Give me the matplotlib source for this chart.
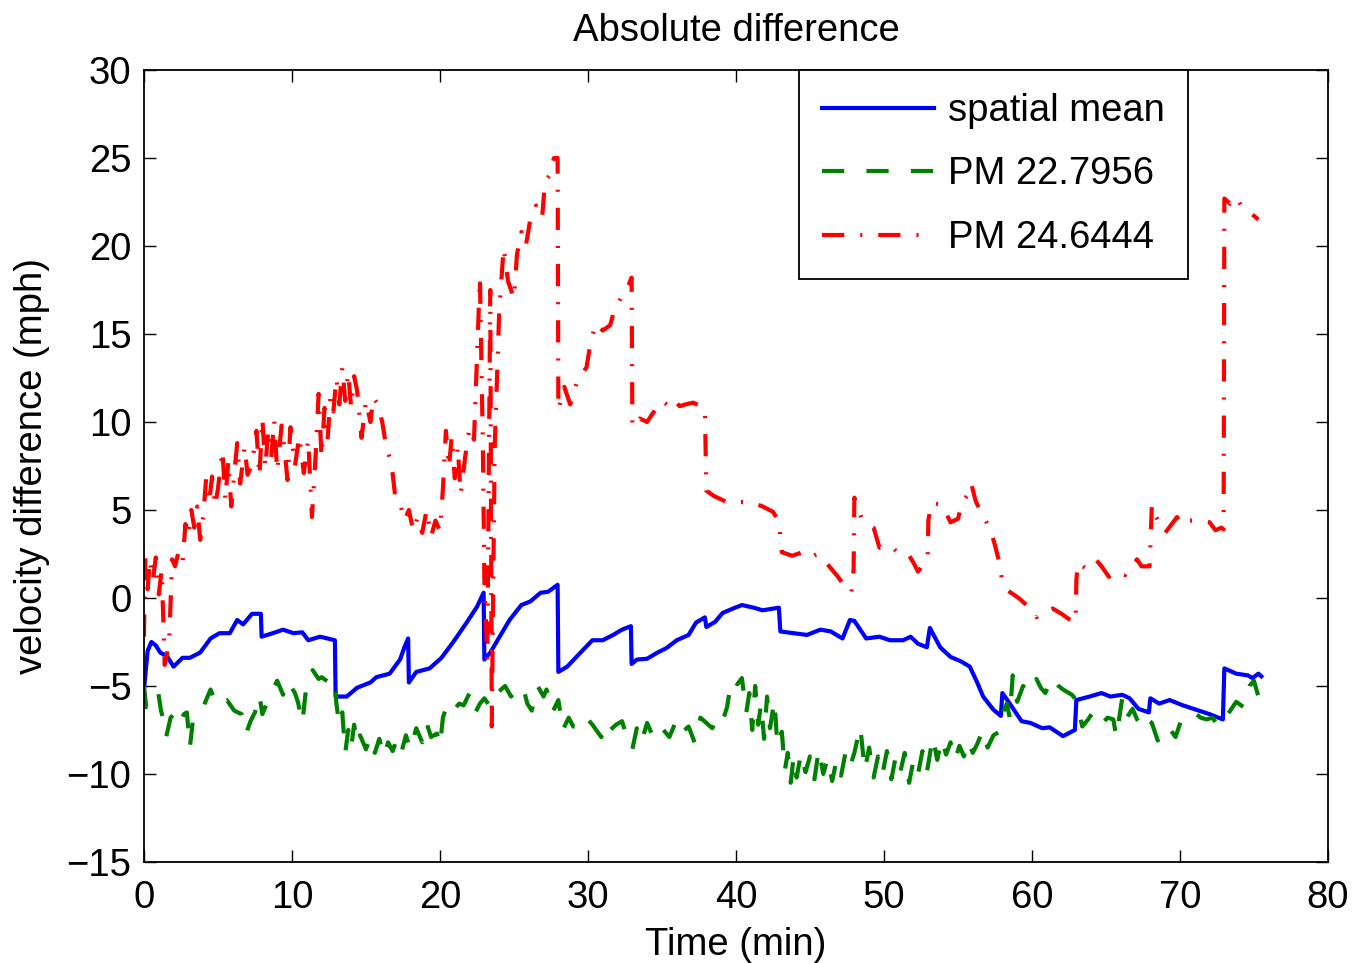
import matplotlib
matplotlib.use("Agg")
import matplotlib.pyplot as plt

plt.rcParams['font.family'] = ['Liberation Sans', 'DejaVu Sans']
plt.rcParams['lines.scale_dashes'] = False

# (time in min, velocity difference in mph)
spatial_mean = [
    (0, -5.2), (0.25, -3.0), (0.5, -2.5), (0.8, -2.7), (1.1, -3.1), (1.55, -3.3),
    (2.0, -3.9), (2.6, -3.4), (3.1, -3.4), (3.8, -3.1), (4.5, -2.3), (5.1, -2.0),
    (5.8, -2.0), (6.3, -1.25), (6.7, -1.5), (7.3, -0.9), (7.9, -0.9), (7.95, -2.2),
    (8.7, -2.0), (9.4, -1.8), (10.1, -2.0), (10.7, -1.95), (11.1, -2.4), (11.9, -2.2),
    (12.4, -2.3), (12.9, -2.4), (12.95, -5.6), (13.7, -5.6), (14.4, -5.1), (15.3, -4.8),
    (15.7, -4.5), (16.6, -4.3), (17.3, -3.5), (17.6, -2.8), (17.85, -2.3), (17.9, -4.8),
    (18.4, -4.2), (19.3, -4.0), (20.1, -3.4), (20.9, -2.5), (21.8, -1.4), (22.5, -0.5),
    (22.95, 0.3), (23.0, -3.5), (23.4, -3.1), (24.1, -2.1), (24.7, -1.25), (25.5, -0.4),
    (26.1, -0.2), (26.8, 0.3), (27.3, 0.35), (27.95, 0.75), (28.0, -4.2), (28.6, -3.9),
    (29.5, -3.1), (30.3, -2.4), (31.0, -2.4), (31.7, -2.1), (32.3, -1.8), (32.9, -1.6),
    (32.95, -3.75), (33.3, -3.5), (34.0, -3.45), (34.7, -3.1), (35.3, -2.85), (36.0, -2.4),
    (36.8, -2.1), (37.3, -1.4), (37.9, -1.1), (38.0, -1.65), (38.6, -1.35), (39.1, -0.85),
    (39.8, -0.6), (40.4, -0.4), (41.2, -0.55), (41.8, -0.7), (42.9, -0.55), (43.0, -1.9),
    (43.9, -2.0), (44.8, -2.1), (45.7, -1.8), (46.4, -1.9), (47.2, -2.3), (47.7, -1.25),
    (48.0, -1.3), (48.8, -2.3), (49.7, -2.2), (50.4, -2.4), (51.3, -2.4), (51.8, -2.2),
    (52.3, -2.6), (52.9, -2.8), (53.1, -1.7), (53.8, -2.8), (54.5, -3.35), (55.2, -3.6),
    (55.8, -3.9), (56.3, -4.8), (56.7, -5.6), (57.4, -6.35), (57.9, -6.7), (58.0, -5.4),
    (58.5, -6.0), (59.3, -7.0), (59.9, -7.1), (60.7, -7.4), (61.2, -7.35), (62.1, -7.85),
    (62.9, -7.5), (63.0, -5.8), (63.9, -5.6), (64.7, -5.4), (65.3, -5.6), (66.1, -5.5),
    (66.6, -5.7), (67.2, -6.3), (67.9, -6.5), (68.0, -5.7), (68.6, -6.0), (69.3, -5.8),
    (70.2, -6.1), (71.1, -6.35), (72.0, -6.6), (72.9, -6.9), (73.0, -4.0), (73.8, -4.3),
    (74.6, -4.4), (74.9, -4.55), (75.3, -4.3), (75.5, -4.45),
]

pm_22 = [
    (0, -5.0), (0.15, -6.2), (0.5, -6.0), (0.95, -5.3), (1.15, -6.4), (1.35, -7.0),
    (1.5, -7.9), (1.8, -6.8), (2.1, -6.5), (2.4, -7.1), (2.7, -6.6), (2.9, -6.5),
    (3.1, -8.5), (3.3, -7.0), (3.6, -6.8), (4.0, -6.2), (4.5, -5.2), (4.9, -6.1),
    (5.3, -5.9), (5.6, -5.8), (6.1, -6.4), (6.6, -6.6), (6.9, -7.7), (7.2, -7.0),
    (7.5, -6.5), (7.8, -5.5), (8.0, -6.6), (8.5, -5.6), (9.0, -4.7), (9.4, -5.5),
    (9.7, -4.7), (10.2, -5.4), (10.4, -5.9), (10.7, -7.1), (11.0, -4.8), (11.4, -4.1),
    (11.8, -4.6), (12.0, -4.5), (12.5, -4.8), (12.9, -4.6), (13.0, -6.0), (13.2, -7.2),
    (13.4, -6.5), (13.6, -8.8), (13.8, -7.5), (14.0, -8.5), (14.2, -7.2), (14.4, -8.3),
    (14.6, -7.8), (15.0, -8.6), (15.3, -7.9), (15.6, -8.8), (15.9, -8.0), (16.2, -9.0),
    (16.5, -8.2), (16.8, -8.7), (17.1, -8.0), (17.4, -8.75), (17.7, -7.8), (18.0, -8.6),
    (18.4, -7.4), (18.8, -8.2), (19.1, -7.1), (19.4, -7.9), (19.8, -7.7), (20.0, -8.4),
    (20.2, -6.8), (20.5, -6.0), (20.9, -6.4), (21.3, -6.0), (21.6, -6.1), (22.0, -5.4),
    (22.4, -6.5), (22.7, -6.0), (23.0, -5.7), (23.4, -6.2), (23.7, -5.8), (24.0, -5.3),
    (24.4, -5.0), (24.8, -5.6), (25.1, -5.3), (25.6, -5.0), (25.9, -6.0), (26.2, -6.4),
    (26.6, -5.0), (27.0, -5.6), (27.2, -5.2), (27.6, -6.5), (28.0, -5.8), (28.3, -7.5),
    (28.7, -6.8), (29.0, -7.3), (29.5, -7.4), (29.9, -6.8), (30.3, -7.2), (30.9, -7.9),
    (31.2, -7.1), (31.5, -7.5), (31.9, -7.2), (32.3, -7.0), (32.6, -7.8), (33.0, -8.6),
    (33.3, -7.4), (33.6, -8.2), (34.0, -7.1), (34.4, -7.9), (34.9, -7.3), (35.5, -7.9),
    (36.0, -6.9), (36.4, -7.6), (36.8, -7.3), (37.2, -8.2), (37.6, -6.8), (38.0, -7.1),
    (38.4, -7.4), (38.8, -6.7), (39.1, -7.0), (39.4, -6.2), (39.7, -4.6), (40.1, -4.9),
    (40.4, -4.55), (40.7, -6.5), (40.9, -5.4), (41.1, -7.5), (41.3, -5.0), (41.5, -7.2),
    (41.7, -6.0), (41.9, -8.0), (42.1, -5.6), (42.3, -7.4), (42.6, -5.8), (42.8, -8.4),
    (43.1, -7.6), (43.3, -9.8), (43.5, -8.8), (43.7, -10.5), (43.9, -9.0), (44.1, -10.2),
    (44.4, -8.8), (44.7, -9.9), (45.0, -9.0), (45.3, -10.3), (45.6, -8.6), (45.9, -10.0),
    (46.2, -9.1), (46.5, -10.4), (46.8, -9.2), (47.1, -10.1), (47.4, -8.8), (47.7, -9.6),
    (48.0, -8.8), (48.4, -7.3), (48.7, -9.8), (49.0, -8.5), (49.3, -10.2), (49.6, -9.0),
    (49.9, -10.0), (50.2, -8.7), (50.5, -10.3), (50.8, -9.0), (51.1, -9.9), (51.4, -8.8),
    (51.7, -10.5), (52.0, -9.2), (52.3, -10.0), (52.6, -8.7), (52.9, -9.9), (53.3, -7.9),
    (53.6, -9.2), (53.9, -8.0), (54.2, -8.9), (54.5, -8.2), (54.8, -9.2), (55.1, -8.4),
    (55.4, -9.0), (55.7, -8.1), (56.0, -8.8), (56.3, -8.3), (56.7, -7.5), (57.0, -8.5),
    (57.4, -7.8), (57.8, -7.6), (58.1, -6.4), (58.3, -6.0), (58.5, -6.8), (58.7, -4.4),
    (59.0, -5.9), (59.4, -5.0), (59.9, -5.4), (60.3, -4.6), (60.6, -5.1), (60.9, -5.4),
    (61.4, -4.5), (61.8, -5.0), (62.1, -5.2), (62.7, -5.5), (63.0, -5.8), (63.4, -7.3),
    (63.8, -6.9), (64.1, -6.5), (64.7, -7.2), (65.1, -6.8), (65.5, -6.9), (65.7, -7.9),
    (66.1, -5.7), (66.4, -6.8), (66.8, -6.3), (67.1, -6.9), (67.5, -7.4), (67.8, -6.9),
    (68.1, -7.1), (68.5, -8.1), (68.8, -7.6), (69.2, -7.3), (69.7, -7.9), (70.1, -6.9),
    (70.4, -6.8), (70.7, -6.5), (71.1, -6.6), (71.4, -6.8), (71.8, -6.9), (72.2, -6.8),
    (72.6, -7.3), (72.9, -7.0), (73.4, -6.4), (73.8, -5.9), (74.3, -6.2), (74.7, -5.0),
    (75.0, -4.7), (75.3, -5.6),
]

pm_24 = [
    (0, -2.2), (0.1, 2.4), (0.25, 0.5), (0.4, 2.2), (0.6, 1.0), (0.8, 2.3),
    (1.0, 0.2), (1.2, 1.6), (1.4, -3.8), (1.55, -3.2), (1.7, -2.6), (1.9, 2.2),
    (2.1, 1.8), (2.3, 2.5), (2.6, 1.9), (2.8, 4.2), (3.0, 3.5), (3.2, 5.0),
    (3.4, 4.0), (3.6, 5.2), (3.8, 3.3), (4.0, 4.6), (4.2, 6.8), (4.4, 5.4),
    (4.6, 6.9), (4.8, 5.2), (5.0, 6.2), (5.3, 8.4), (5.5, 5.6), (5.7, 7.8),
    (5.9, 5.2), (6.1, 7.0), (6.3, 8.8), (6.5, 6.5), (6.8, 8.6), (7.0, 7.0),
    (7.3, 7.6), (7.6, 9.5), (7.8, 6.9), (8.0, 10.2), (8.2, 7.4), (8.4, 9.6),
    (8.6, 8.0), (8.8, 10.1), (9.0, 7.2), (9.3, 9.8), (9.5, 8.4), (9.7, 6.7),
    (9.9, 9.7), (10.2, 7.5), (10.5, 9.2), (10.8, 7.1), (11.1, 9.0), (11.35, 4.6),
    (11.6, 8.1), (11.8, 11.6), (12.0, 8.0), (12.2, 10.8), (12.4, 8.9), (12.6, 11.4),
    (12.8, 10.6), (13.0, 12.5), (13.2, 11.0), (13.4, 13.1), (13.6, 11.2), (13.8, 12.8),
    (14.0, 10.8), (14.2, 12.6), (14.4, 11.8), (14.7, 9.1), (15.0, 11.2), (15.3, 10.0),
    (15.5, 11.4), (15.8, 11.0), (16.1, 10.0), (16.4, 8.4), (16.7, 7.8), (17.0, 5.6),
    (17.3, 5.4), (17.6, 4.4), (17.9, 5.0), (18.2, 3.8), (18.5, 4.6), (18.8, 3.7),
    (19.1, 5.0), (19.4, 3.5), (19.7, 4.4), (20.0, 3.8), (20.2, 6.2), (20.4, 9.5),
    (20.6, 7.4), (20.8, 9.2), (21.0, 6.8), (21.2, 8.6), (21.4, 5.9), (21.7, 8.0),
    (22.0, 9.7), (22.3, 9.0), (22.7, 18.2), (22.9, 8.6), (23.0, 1.0), (23.2, -3.5),
    (23.4, 17.5), (23.5, -7.3), (23.7, 8.6), (24.0, 16.2), (24.3, 19.9), (24.6, 18.0),
    (25.0, 17.0), (25.2, 19.5), (25.5, 20.8), (25.8, 20.0), (26.1, 21.5), (26.5, 22.3),
    (26.9, 21.6), (27.1, 23.7), (27.4, 24.0), (27.7, 25.0), (27.95, 25.0), (28.0, 10.7),
    (28.4, 12.0), (28.8, 11.0), (29.3, 12.4), (29.9, 13.1), (30.1, 14.1), (30.5, 15.6),
    (31.0, 15.2), (31.5, 15.5), (31.8, 16.4), (32.2, 17.0), (32.6, 17.5), (32.95, 18.2),
    (33.0, 9.7), (33.5, 10.2), (34.0, 10.0), (34.3, 10.4), (35.0, 11.2), (35.5, 10.9),
    (35.8, 11.25), (36.2, 10.9), (36.6, 11.0), (37.1, 11.1), (37.9, 10.8), (38.0, 6.1),
    (38.5, 5.8), (39.0, 5.6), (39.5, 5.4), (40.3, 5.45), (41.0, 5.45), (41.8, 5.2),
    (42.5, 4.9), (42.95, 4.3), (43.0, 3.1), (43.1, 2.6), (43.8, 2.4), (44.5, 2.6),
    (45.0, 2.3), (45.5, 2.5), (46.2, 1.9), (46.9, 1.2), (47.4, 0.6), (47.8, 0.3),
    (47.95, 1.6), (48.0, 5.7), (48.5, 4.5), (49.3, 4.0), (49.7, 2.85), (50.2, 3.0),
    (50.6, 2.85), (50.9, 2.6), (51.6, 2.55), (52.0, 2.0), (52.3, 1.5), (52.95, 2.2),
    (53.0, 4.4), (53.2, 5.4), (53.9, 5.3), (54.5, 4.3), (55.0, 4.5), (55.3, 5.45),
    (55.6, 5.8), (55.9, 6.5), (56.2, 5.5), (56.6, 4.8), (57.2, 3.9), (57.5, 3.0),
    (57.8, 2.0), (58.0, 0.9), (58.4, 0.4), (59.1, 0.0), (59.5, -0.3), (59.9, -0.6),
    (60.3, -1.1), (60.7, -0.8), (61.4, -0.6), (62.0, -0.9), (62.5, -1.2), (62.95, -1.4),
    (63.0, 1.0), (63.1, 2.0), (63.6, 1.7), (64.3, 2.2), (64.7, 1.8), (65.2, 1.2),
    (65.6, 1.5), (66.3, 1.3), (67.1, 2.2), (67.4, 1.8), (67.95, 1.8), (68.0, 2.9),
    (68.1, 5.3), (68.4, 4.6), (69.0, 3.7), (69.8, 4.6), (70.2, 4.15), (70.5, 4.4),
    (71.4, 4.4), (72.0, 4.3), (72.4, 3.85), (72.8, 4.0), (72.95, 3.9), (73.0, 22.7),
    (73.4, 22.4), (73.8, 22.8), (74.2, 22.2), (74.6, 22.0), (75.3, 21.5),
]

labels = ['spatial mean', 'PM 22.7956', 'PM 24.6444']
fs = 27.5

fig = plt.figure(figsize=(13.62, 9.63), dpi=100)
ax = fig.add_axes([0.1057, 0.1049, 0.975 - 0.1057, 0.9273 - 0.1049])

t, v = zip(*spatial_mean)
ax.plot(t, v, color=(0, 0, 1), lw=3.0, label=labels[0])
t, v = zip(*pm_22)
ax.plot(t, v, color=(0, 0.5, 0), lw=3.0, linestyle=(0, (16, 16)),
        dash_capstyle='butt', label=labels[1])
t, v = zip(*pm_24)
ax.plot(t, v, color=(1, 0, 0), lw=3.0, linestyle=(0, (16, 11.5, 1.5, 11.5)),
        dash_capstyle='butt', label=labels[2])

ax.set_xlim(0, 80)
ax.set_ylim(-15, 30)
ax.set_xticks(range(0, 81, 10))
ax.set_yticks(range(-15, 31, 5))
ax.set_yticklabels([str(y).replace('-', '\u2212') for y in range(-15, 31, 5)])
ax.tick_params(direction='in', length=8.5, width=1.0, top=True, right=True,
               labelsize=fs)
ax.tick_params(axis='x', pad=13)
ax.tick_params(axis='y', pad=9)
for s in ax.spines.values():
    s.set_linewidth(1.3)

ax.set_title('Absolute difference', fontsize=fs, pad=21)
ax.set_xlabel('Time (min)', fontsize=fs, labelpad=8)
ax.set_ylabel('velocity difference (mph)', fontsize=fs, labelpad=12)

leg = ax.legend(loc='upper right', bbox_to_anchor=(0.8818, 1.0), borderaxespad=0,
                fontsize=fs, handlelength=2.95, handletextpad=0.36,
                labelspacing=0.72, borderpad=0.6, fancybox=False, framealpha=1)
leg.get_frame().set_edgecolor('black')
leg.get_frame().set_linewidth(1.3)

fig.savefig('out.png', dpi=100)
